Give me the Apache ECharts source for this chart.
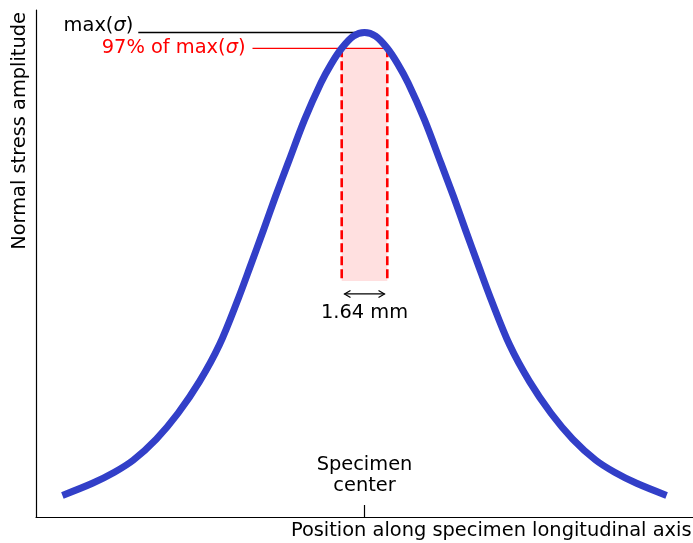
<!DOCTYPE html>
<html>
<head>
<meta charset="utf-8">
<script src="https://cdn.jsdelivr.net/npm/echarts@6/dist/echarts.min.js"></script>
<style>
  html, body { margin: 0; padding: 0; background: #ffffff; }
  #chart { width: 693px; height: 543px; }
</style>
</head>
<body>
<div id="chart"></div>
<script>
// Position along the specimen (mm, 0 = specimen center)
const positionMm = [
  -10.87, -9.79, -9.00, -8.32, -7.49, -6.71, -5.94, -5.22, -4.54, -4.09,
  -3.64, -3.20, -2.75, -2.16, -1.57, -1.20, -0.82, -0.40, 0.00,
  0.40, 0.82, 1.20, 1.57, 2.16, 2.75, 3.20, 3.64, 4.09, 4.54,
  5.22, 5.94, 6.71, 7.49, 8.32, 9.00, 9.79, 10.87
];
// Normal stress amplitude, normalised to its maximum
const stressNorm = [
  0.121, 0.144, 0.165, 0.188, 0.228, 0.277, 0.337, 0.407, 0.495, 0.559,
  0.624, 0.689, 0.752, 0.834, 0.904, 0.940, 0.970, 0.993, 1.000,
  0.993, 0.970, 0.940, 0.904, 0.834, 0.752, 0.689, 0.624, 0.559, 0.495,
  0.407, 0.337, 0.277, 0.228, 0.188, 0.165, 0.144, 0.121
];

// Annotation values
const peakValue = 1.0;        // max(sigma)
const bandRatio = 0.97;       // 97 % of max(sigma)
const bandWidthMm = 1.64;     // width of the zone above 97 %
const bandBottom = 0.528;     // lower end of the shaded zone
const arrowLevel = 0.5035;    // height of the width arrow
const maxLineStart = -8.14;   // left end of the max(sigma) leader
const ratioLineStart = -4.03; // left end of the 97 % leader

// Axis ranges
const xRange = [-11.82, 11.82];
const yRange = [0.08, 1.0427];

// Text
const xTitle = 'Position along specimen longitudinal axis';
const yTitle = 'Normal stress amplitude';
const centerLabel = ['Specimen', 'center'];
const widthLabel = '1.64 mm';

const FONT = 'DejaVu Sans';
const FS = 19.4;
const CURVE = '#323fc8';
const RED = '#ff0000';

const chart = echarts.init(document.getElementById('chart'), null, { renderer: 'canvas' });

function sigmaRich(color) {
  return {
    n: { fontFamily: FONT, fontSize: FS, fill: color, color: color },
    i: { fontFamily: FONT, fontSize: FS, fontStyle: 'italic', fill: color, color: color }
  };
}

function drawNotes(params, api) {
  const p = (x, y) => api.coord([x, y]);
  const half = bandWidthMm / 2;
  const level = peakValue * bandRatio;

  const bandTL = p(-half, level);
  const bandBR = p(half, bandBottom);
  const maxA = p(maxLineStart, peakValue);
  const maxB = p(0, peakValue);
  const ratA = p(ratioLineStart, level);
  const ratB = p(half, level);
  const arL = p(-half + 0.10, arrowLevel);
  const arR = p(half - 0.10, arrowLevel);
  const base = p(0, yRange[0]);

  const head = 6, hw = 3.5;
  const children = [
    { type: 'rect', shape: { x: bandTL[0], y: bandTL[1], width: bandBR[0] - bandTL[0], height: bandBR[1] - bandTL[1] },
      style: { fill: '#ffe0e0' } },
    { type: 'line', shape: { x1: maxA[0], y1: maxA[1], x2: maxB[0], y2: maxB[1] },
      style: { stroke: '#000000', lineWidth: 1.3 } },
    { type: 'line', shape: { x1: ratA[0], y1: ratA[1], x2: ratB[0], y2: ratB[1] },
      style: { stroke: RED, lineWidth: 1.3 } },
    { type: 'line', shape: { x1: bandTL[0], y1: bandTL[1], x2: bandTL[0], y2: bandBR[1] },
      style: { stroke: RED, lineWidth: 2.6, lineDash: [9, 4] } },
    { type: 'line', shape: { x1: bandBR[0], y1: bandTL[1], x2: bandBR[0], y2: bandBR[1] },
      style: { stroke: RED, lineWidth: 2.6, lineDash: [9, 4] } },
    { type: 'line', shape: { x1: arL[0], y1: arL[1], x2: arR[0], y2: arR[1] },
      style: { stroke: '#000000', lineWidth: 1.2 } },
    { type: 'polyline', shape: { points: [[arL[0] + head, arL[1] - hw], [arL[0], arL[1]], [arL[0] + head, arL[1] + hw]] },
      style: { stroke: '#000000', lineWidth: 1.2, fill: null } },
    { type: 'polyline', shape: { points: [[arR[0] - head, arR[1] - hw], [arR[0], arR[1]], [arR[0] - head, arR[1] + hw]] },
      style: { stroke: '#000000', lineWidth: 1.2, fill: null } },
    { type: 'text', style: { text: widthLabel, x: (arL[0] + arR[0]) / 2, y: arL[1] + 19,
      fill: '#000000', fontFamily: FONT, fontSize: FS, align: 'center', verticalAlign: 'middle' } },
    { type: 'text', style: { text: '{n|max(}{i|σ}{n|)}', x: maxA[0] - 5, y: maxA[1] - 7,
      rich: sigmaRich('#000000'), fill: '#000000', fontFamily: FONT, fontSize: FS, align: 'right', verticalAlign: 'middle' } },
    { type: 'text', style: { text: '{n|97% of max(}{i|σ}{n|)}', x: ratA[0] - 7, y: ratA[1],
      rich: sigmaRich(RED), fill: RED, fontFamily: FONT, fontSize: FS, align: 'right', verticalAlign: 'middle' } },
    { type: 'text', style: { text: centerLabel[0], x: base[0], y: base[1] - 52,
      fill: '#000000', fontFamily: FONT, fontSize: FS, align: 'center', verticalAlign: 'middle' } },
    { type: 'text', style: { text: centerLabel[1], x: base[0], y: base[1] - 31.5,
      fill: '#000000', fontFamily: FONT, fontSize: FS, align: 'center', verticalAlign: 'middle' } },
    { type: 'line', shape: { x1: base[0], y1: base[1], x2: base[0], y2: base[1] - 12 },
      style: { stroke: '#000000', lineWidth: 1.2 } }
  ];
  return { type: 'group', children: children };
}

chart.setOption({
  animation: false,
  backgroundColor: '#ffffff',
  grid: { left: 36, right: 0, top: 10, bottom: 26, containLabel: false },
  xAxis: {
    type: 'value', min: xRange[0], max: xRange[1],
    axisLine: { show: true, onZero: false, lineStyle: { color: '#000000', width: 1.2 } },
    axisTick: { show: false },
    axisLabel: { show: false },
    splitLine: { show: false }
  },
  yAxis: {
    type: 'value', min: yRange[0], max: yRange[1],
    axisLine: { show: true, onZero: false, lineStyle: { color: '#000000', width: 1.2 } },
    axisTick: { show: false },
    axisLabel: { show: false },
    splitLine: { show: false }
  },
  graphic: [
    { type: 'text', x: 691.5, y: 530.5, style: { text: xTitle, fill: '#000000', fontFamily: FONT, fontSize: FS,
      align: 'right', verticalAlign: 'middle' } },
    { type: 'text', x: 20, y: 12, rotation: Math.PI / 2, style: { text: yTitle, fill: '#000000', fontFamily: FONT, fontSize: FS,
      align: 'right', verticalAlign: 'middle' } }
  ],
  series: [
    {
      type: 'custom', z: 1, silent: true, clip: false,
      data: [[0, peakValue]],
      renderItem: drawNotes
    },
    {
      type: 'line', z: 3, silent: true,
      data: positionMm.map((x, i) => [x, stressNorm[i]]),
      showSymbol: false, smooth: 0.33,
      lineStyle: { color: CURVE, width: 7, cap: 'butt', join: 'round' }
    }
  ]
});
</script>
</body>
</html>
